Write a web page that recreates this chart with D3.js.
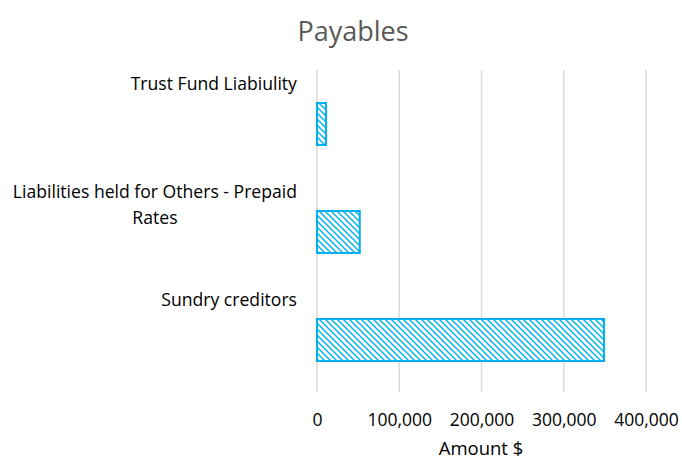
<!doctype html>
<meta charset="utf-8">
<title>Payables</title>
<script src="https://cdn.jsdelivr.net/npm/d3@7"></script>
<body style="margin:0;background:#fff">
<script>
var categories = ["Trust Fund Liabiulity", "Liabilities held for Others - Prepaid Rates", "Sundry creditors"];
var labelLines = [["Trust Fund Liabiulity"], ["Liabilities held for Others - Prepaid", "Rates"], ["Sundry creditors"]];
var values = [11000, 52000, 349000];
var xTicks = [0, 100000, 200000, 300000, 400000];

var width = 682, height = 459;
var plotLeft = 317, plotRight = 646, plotTop = 70, plotBottom = 392;
var font = "'Open Sans', sans-serif";

var svg = d3.select('body').append('svg')
  .attr('width', width)
  .attr('height', height)
  .style('font-family', font);

svg.append('rect').attr('width', width).attr('height', height).attr('fill', '#fff');

var defs = svg.append('defs');
var pat = defs.append('pattern')
  .attr('id', 'hatch')
  .attr('patternUnits', 'userSpaceOnUse')
  .attr('width', 6).attr('height', 6);
pat.append('rect').attr('width', 6).attr('height', 6).attr('fill', '#fff');
pat.append('path')
  .attr('d', 'M-1,-1 L7,7 M-4,2 L1,7 M2,-4 L7,1')
  .attr('stroke', '#00b0f0')
  .attr('stroke-width', 1.4);

var x = d3.scaleLinear().domain([0, 400000]).range([plotLeft, plotRight]);
var y = d3.scaleBand().domain(categories).range([plotTop, plotTop + 324]).paddingInner(0.611).paddingOuter(0.3055);

// gridlines
svg.append('g').selectAll('line')
  .data(xTicks)
  .enter().append('line')
  .attr('x1', function(d) { return x(d) }).attr('x2', function(d) { return x(d) })
  .attr('y1', plotTop).attr('y2', plotBottom)
  .attr('stroke', '#d9d9d9').attr('stroke-width', 1.5);

// bars
svg.append('g').selectAll('rect')
  .data(values)
  .enter().append('rect')
  .attr('x', x(0))
  .attr('y', function(d, i) { return y(categories[i]) })
  .attr('width', function(d) { return x(d) - x(0) })
  .attr('height', y.bandwidth())
  .attr('fill', 'url(#hatch)')
  .attr('stroke', '#00b0f0')
  .attr('stroke-width', 2);

// x tick labels
var xAxis = d3.axisBottom(x).tickValues(xTicks).tickSize(0).tickFormat(d3.format(','));
var gx = svg.append('g').attr('transform', 'translate(0,' + (plotBottom + 19) + ')').call(xAxis);
gx.select('.domain').remove();
gx.selectAll('text').attr('font-size', 17.5).attr('font-family', font).attr('fill', '#000');

// category labels
var gl = svg.append('g');
labelLines.forEach(function(lines, i) {
  var cy = y(categories[i]) + y.bandwidth() / 2;
  var t = gl.append('text')
    .attr('text-anchor', 'middle')
    .attr('font-size', 17.6)
    .attr('fill', '#000');
  lines.forEach(function(l, j) {
    t.append('tspan').attr('x', 0).attr('y', cy - 34 + j * 26).text(l);
  });
});
// right-align each block at the plot's left, lines centred within it
gl.selectAll('text').each(function() {
  var bb = this.getBBox();
  d3.select(this).attr('transform', 'translate(' + (297 - bb.width / 2) + ',0)');
});

svg.append('text')
  .attr('x', 353).attr('y', 41)
  .attr('text-anchor', 'middle')
  .attr('font-size', 27)
  .attr('fill', '#595959')
  .text('Payables');

svg.append('text')
  .attr('x', 481).attr('y', 455)
  .attr('text-anchor', 'middle')
  .attr('font-size', 18.5)
  .attr('fill', '#000')
  .text('Amount $');
</script>
</body>
